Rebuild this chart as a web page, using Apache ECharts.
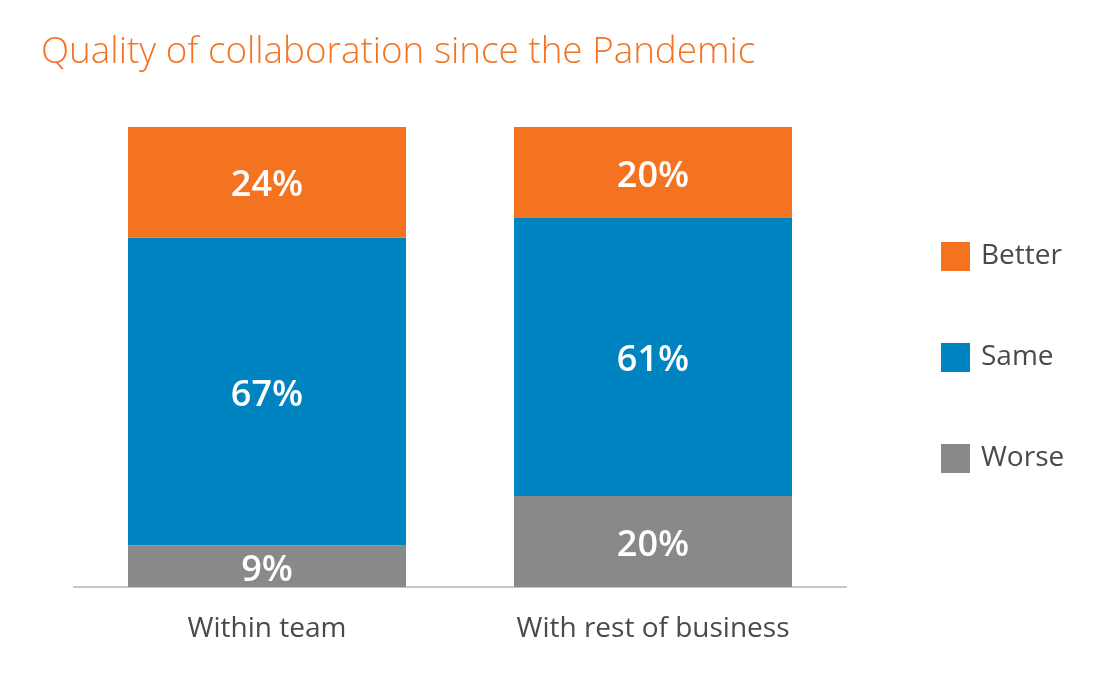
<!DOCTYPE html>
<html><head><meta charset="utf-8">
<script src="https://cdn.jsdelivr.net/npm/echarts@6/dist/echarts.min.js"></script>
<style>html,body{margin:0;padding:0;background:#fff}#c{width:1111px;height:675px}</style>
</head><body><div id="c"></div>
<script>
const categories = ['Within team', 'With rest of business'];
const worse = [9, 20];
const same = [67, 61];
const better = [24, 20];
const seriesNames = ['Better', 'Same', 'Worse'];

const totals = categories.map((_, i) => worse[i] + same[i] + better[i]);
const norm = arr => arr.map((v, i) => ({ value: v / totals[i] * 100, raw: v }));

const FONT = 'Open Sans';
const chart = echarts.init(document.getElementById('c'));
const labelStyle = {
  show: true, position: 'inside', color: '#fff', fontFamily: FONT,
  fontSize: 36, fontWeight: 600, offset: [0, 4],
  formatter: p => p.data.raw + '%'
};
const mk = (name, arr, color) => ({
  name, type: 'bar', stack: 'total', barWidth: 278,
  data: norm(arr), itemStyle: { color }, label: labelStyle,
  emphasis: { disabled: true }
});
chart.setOption({
  animation: false,
  title: {
    text: 'Quality of collaboration since the Pandemic', left: 36, top: 29,
    textStyle: { color: '#F37321', fontFamily: FONT, fontSize: 36.8, fontWeight: 300 }
  },
  legend: {
    orient: 'vertical', left: 936, top: 237, itemWidth: 29, itemHeight: 29, itemGap: 72,
    icon: 'rect', data: seriesNames,
    textStyle: { color: '#4a4a4a', fontFamily: FONT, fontSize: 28, padding: [3, 0, 0, 6] }
  },
  grid: { left: 74, width: 772, top: 127, bottom: 88 },
  xAxis: {
    type: 'category', data: categories,
    axisLine: { lineStyle: { color: '#c8c8c8', width: 2 } },
    axisTick: { show: false },
    axisLabel: { color: '#4a4a4a', fontFamily: FONT, fontSize: 28, margin: 28 }
  },
  yAxis: { type: 'value', min: 0, max: 100, show: false, splitLine: { show: false } },
  series: [
    mk('Worse', worse, '#88898B'),
    mk('Same', same, '#0084C1'),
    mk('Better', better, '#F37321')
  ]
});
</script></body></html>
